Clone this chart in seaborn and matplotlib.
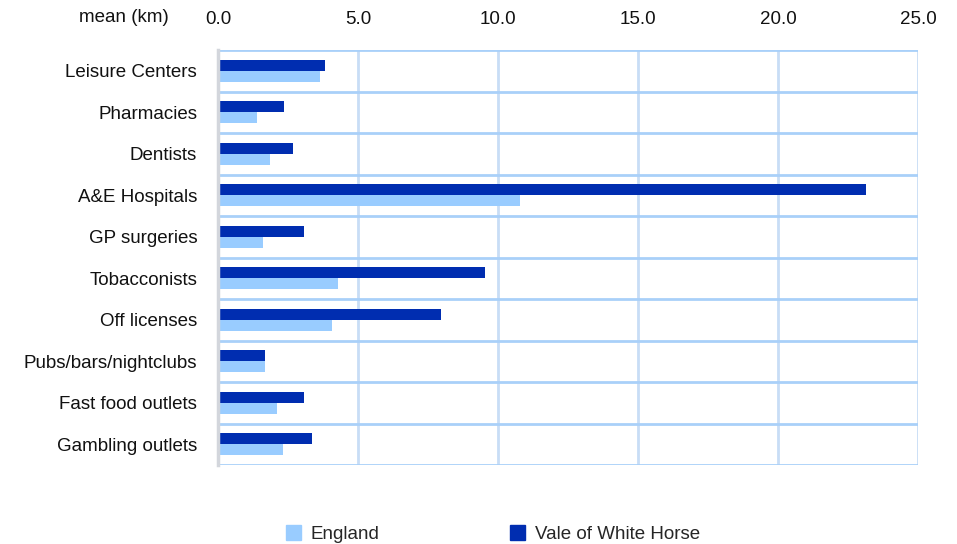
import matplotlib
matplotlib.use("Agg")
import matplotlib.pyplot as plt
from matplotlib.patches import Patch
import seaborn as sns
import pandas as pd
import numpy as np

categories = ["Leisure Centers", "Pharmacies", "Dentists", "A&E Hospitals", "GP surgeries",
              "Tobacconists", "Off licenses", "Pubs/bars/nightclubs", "Fast food outlets",
              "Gambling outlets"]
england = [3.64, 1.39, 1.86, 10.79, 1.61, 4.29, 4.07, 1.68, 2.11, 2.32]
vale = [3.82, 2.36, 2.68, 23.14, 3.07, 9.54, 7.96, 1.68, 3.07, 3.36]
xticks = [0, 5, 10, 15, 20, 25]

sns.set_theme(style="white")
plt.rcParams["font.family"] = ["Liberation Sans", "DejaVu Sans"]

df = pd.concat([
    pd.DataFrame({"cat": categories, "val": vale, "series": "Vale of White Horse"}),
    pd.DataFrame({"cat": categories, "val": england, "series": "England"}),
])

c_vale = "#002db0"
c_eng = "#99ccff"
fs = 13.5

fig = plt.figure(figsize=(9.57, 5.44), dpi=100)
ax = fig.add_axes([218/957, 1-465/544, 700/957, 415/544])
sns.barplot(data=df, y="cat", x="val", hue="series", order=categories,
            hue_order=["Vale of White Horse", "England"],
            palette={"Vale of White Horse": c_vale, "England": c_eng},
            orient="h", width=0.53, gap=0, saturation=1, legend=False, ax=ax, zorder=3)
for p in ax.patches:
    p.set_edgecolor("none")

ax.set_xlim(0, 25)
ax.set_ylim(len(categories)-0.5, -0.5)
ax.set_xticks(xticks)
ax.set_xticklabels([f"{v:.1f}" for v in xticks])
ax.xaxis.tick_top()
ax.tick_params(axis="x", length=0, pad=15.5, labelsize=fs, colors="#111111")
ax.tick_params(axis="y", length=0, pad=15, labelsize=fs, colors="#111111")
ax.set_xlabel("")
ax.set_ylabel("")

# grid
for v in xticks[1:]:
    ax.axvline(v, color="#c8ddf6", lw=2, zorder=1)
for i in range(len(categories)+1):
    ax.axhline(i-0.5, color="#a9d0f9", lw=2, zorder=1)

for s in ["top", "bottom", "right"]:
    ax.spines[s].set_visible(False)
ax.spines["left"].set_color("#d3d6dc")
ax.spines["left"].set_linewidth(2.5)
ax.spines["left"].set_zorder(4)

fig.text(124/957, 1-18/544, "mean (km)", ha="center", va="center", fontsize=fs, color="#111111")

handles = [Patch(color=c_eng), Patch(color=c_vale)]
fig.legend(handles, ["England", "Vale of White Horse"], ncol=2, frameon=False,
           loc="center left", bbox_to_anchor=(269/957, 1-534/544),
           fontsize=fs, handlelength=0.8, handleheight=0.8, handletextpad=0.5,
           columnspacing=7.0)

fig.savefig("out.png", dpi=100)
